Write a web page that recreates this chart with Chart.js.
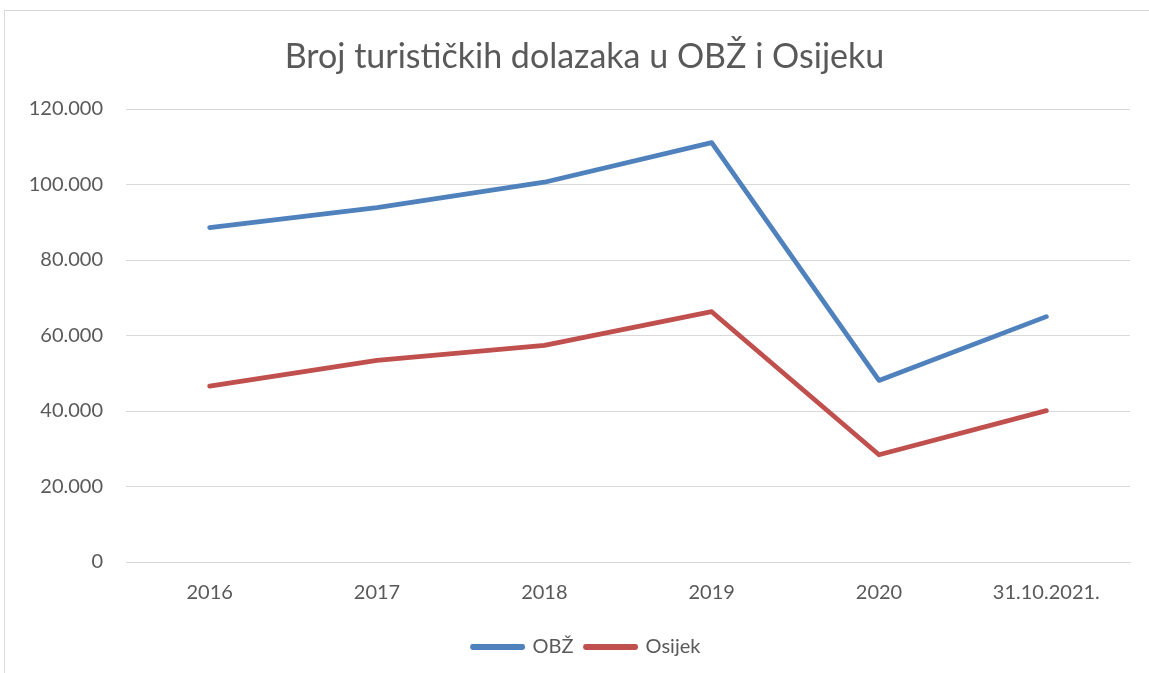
<!DOCTYPE html>
<html>
<head>
<meta charset="utf-8">
<script src="https://cdn.jsdelivr.net/npm/chart.js@4.4.0/dist/chart.umd.min.js"></script>
<style>
  html, body { margin: 0; padding: 0; background: #fff; overflow: hidden; }
  #frame { position: absolute; left: 4px; top: 10px; width: 1160px; height: 680px; border: 1px solid #d9d9d9; }
  #wrap { position: absolute; left: 0; top: 0; width: 1145px; height: 662px; }
</style>
</head>
<body>
<div id="frame"><div id="wrap"><canvas id="chart"></canvas></div></div>
<script>
// --- data ---
const years = ['2016', '2017', '2018', '2019', '2020', '31.10.2021.'];
const obz = [88600, 93900, 100600, 111100, 48100, 65000];
const osijek = [46600, 53400, 57400, 66300, 28400, 40100];
const yTicks = [0, 20000, 40000, 60000, 80000, 100000, 120000];

const textColor = '#595959';
const gridColor = '#d9d9d9';
const font = 'Lato, "Open Sans", sans-serif';

function fmt(v) {
  return String(v).replace(/\B(?=(\d{3})+(?!\d))/g, '.');
}

function series(label, data, color) {
  return {
    label, data,
    borderColor: color,
    backgroundColor: color,
    borderWidth: 4.8,
    borderCapStyle: 'round',
    borderJoinStyle: 'round',
    pointRadius: 0,
    tension: 0
  };
}

// title and legend sit a bit right of the canvas centre in the original
const nudge = {
  id: 'nudge',
  afterLayout(chart) {
    chart.legend.left += 19;
    chart.legend.right += 19;
    chart.titleBlock.left += 17;
    chart.titleBlock.right += 17;
  }
};

new Chart(document.getElementById('chart'), {
  type: 'line',
  data: {
    labels: years,
    datasets: [
      series('OBŽ', obz, '#4f81bd'),
      series('Osijek', osijek, '#c0504d')
    ]
  },
  plugins: [nudge],
  options: {
    responsive: true,
    maintainAspectRatio: false,
    animation: false,
    layout: { padding: { left: 0, right: 20, top: 0, bottom: 6 } },
    plugins: {
      title: {
        display: true,
        text: 'Broj turističkih dolazaka u OBŽ i Osijeku',
        color: textColor,
        font: { family: font, size: 34, weight: 'normal' },
        padding: { top: 25.6, bottom: 31.6 }
      },
      legend: {
        position: 'bottom',
        labels: {
          color: textColor,
          font: { family: font, size: 20 },
          boxWidth: 50,
          boxHeight: 1,
          padding: 12
        }
      },
      tooltip: { enabled: false }
    },
    scales: {
      x: {
        offset: true,
        grid: { display: false, drawTicks: false },
        border: { color: gridColor },
        ticks: { color: textColor, font: { family: font, size: 20 }, padding: 19, maxRotation: 0 },
        afterFit: (s) => { s.height = 63; }
      },
      y: {
        min: 0, max: 120000,
        afterBuildTicks: (s) => { s.ticks = yTicks.map(v => ({ value: v })); },
        grid: { color: gridColor, drawTicks: false },
        border: { display: false },
        ticks: { color: textColor, font: { family: font, size: 20 }, padding: 23, callback: (v) => fmt(v) },
        afterFit: (s) => { s.width = 121; }
      }
    }
  }
});
</script>
</body>
</html>
